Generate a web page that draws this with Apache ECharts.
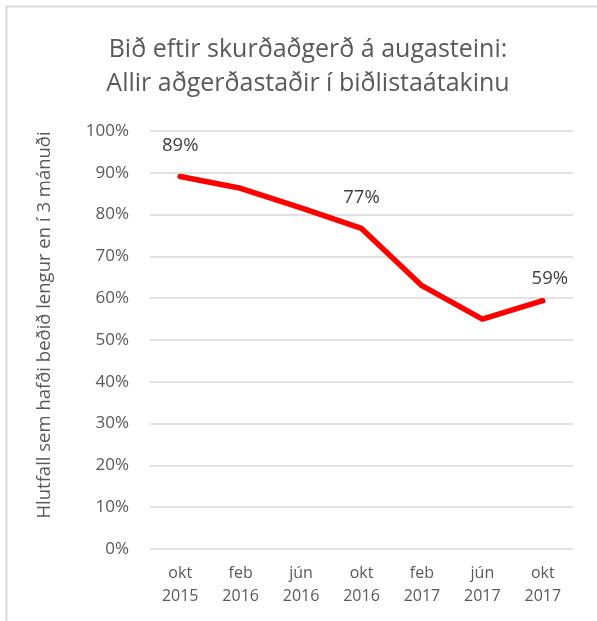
<!DOCTYPE html>
<html><head><meta charset="utf-8">
<script src="https://cdn.jsdelivr.net/npm/echarts@6/dist/echarts.min.js"></script>
<style>html,body{margin:0;padding:0;background:#fff}#c{width:597px;height:621px}</style>
</head><body><div id="c"></div>
<script>
const categories = ['okt\n2015','feb\n2016','jún\n2016','okt\n2016','feb\n2017','jún\n2017','okt\n2017'];
const values = [89.1, 86.3, 81.6, 76.7, 63.0, 55.0, 59.4];
const labeledIdx = [0, 3, 6];
const yTicks = [0,10,20,30,40,50,60,70,80,90,100];
const titleLines = ['Bið eftir skurðaðgerð á augasteini:', 'Allir aðgerðastaðir í biðlistaátakinu'];
const yName = 'Hlutfall sem hafði beðið lengur en í 3 mánuði';

const FONT = 'Open Sans';
const labelDist = {0:20, 3:20, 6:11};
const labelShift = {6:[7,0]};
const chart = echarts.init(document.getElementById('c'), null, {renderer:'canvas'});
chart.setOption({
  animation:false,
  backgroundColor:'#fff',
  title:{
    text: titleLines.join('\n'), left: 303, textAlign:'center', top: 28,
    textStyle:{fontFamily:FONT, fontSize:25, fontWeight:'normal', color:'#595959', lineHeight:34}
  },
  graphic:[
    {type:'line', shape:{x1:6, y1:6.5, x2:597, y2:6.5}, style:{stroke:'#d9d9d9', lineWidth:2}},
    {type:'line', shape:{x1:6.5, y1:6, x2:6.5, y2:621}, style:{stroke:'#d9d9d9', lineWidth:2}}
  ],
  grid:{left:150, right:24, top:131, bottom:72, containLabel:false},
  xAxis:{
    type:'category', data:categories, boundaryGap:true,
    axisLine:{show:false}, axisTick:{show:false},
    axisLabel:{fontFamily:FONT, fontSize:16, color:'#595959', lineHeight:23, margin:13, interval:0}
  },
  yAxis:{
    type:'value', min:yTicks[0], max:yTicks[yTicks.length-1], interval:10,
    name:yName, nameLocation:'middle', nameRotate:90, nameGap:96,
    nameTextStyle:{fontFamily:FONT, fontSize:18.5, color:'#595959', padding:[0,0,0,30]},
    axisLine:{show:false}, axisTick:{show:false},
    axisLabel:{fontFamily:FONT, fontSize:17, color:'#595959', margin:21, formatter: v => v + '%'},
    splitLine:{lineStyle:{color:'#d9d9d9', width:1.5}}
  },
  series:[{
    type:'line', data: values.map((v,i)=>({
      value:v,
      label:{show: labeledIdx.includes(i), distance: labelDist[i] || 20, offset: labelShift[i] || [0,0]}
    })),
    symbol:'circle', symbolSize:2, showSymbol:true, showAllSymbol:true,
    itemStyle:{color:'rgba(255,0,0,0)', borderWidth:0},
    lineStyle:{color:'#ff0000', width:5.5, cap:'round', join:'round'},
    label:{show:false, position:'top', fontFamily:FONT, fontSize:18.5, color:'#404040',
      formatter: p => Math.round(p.value) + '%'}
  }]
});
</script></body></html>
